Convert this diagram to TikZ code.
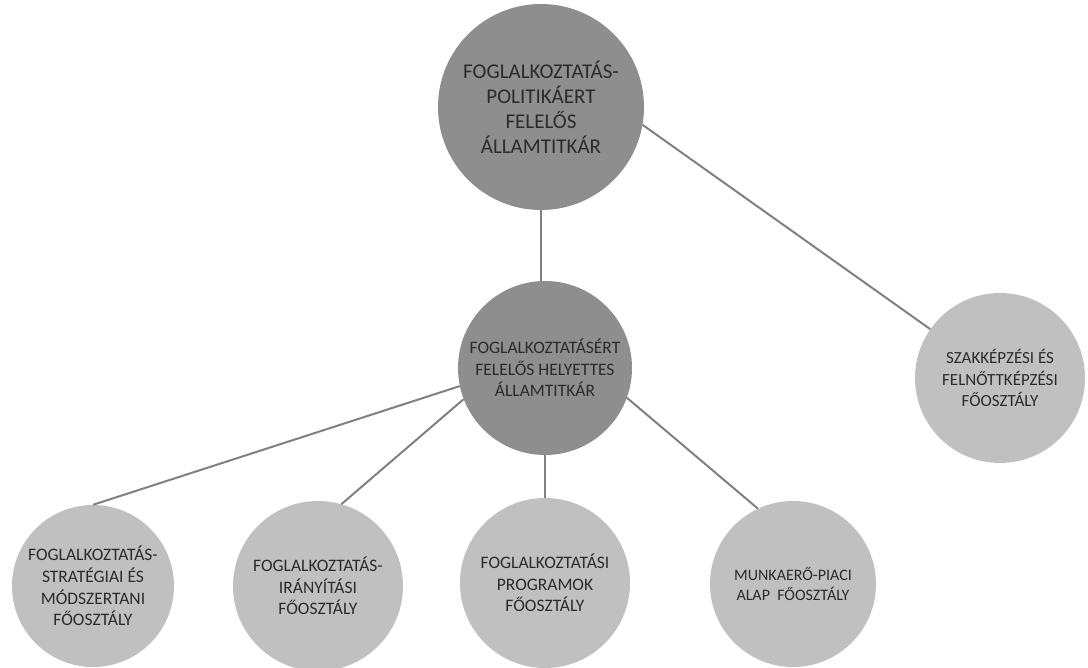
\documentclass[tikz,border=0pt]{standalone}
\usepackage{fontspec}
\setmainfont{Carlito}
\definecolor{darkfill}{HTML}{8E8E8E}
\definecolor{lightfill}{HTML}{C0C0C0}
\definecolor{linecol}{HTML}{808080}
\definecolor{txtcol}{HTML}{2B2B2B}
\tikzset{
  bubble/.style={circle, inner sep=0pt, align=center, text=txtcol},
  darkbubble/.style={bubble, fill=darkfill},
  lightbubble/.style={bubble, fill=lightfill},
  link/.style={draw=linecol, line width=2pt}
}
\newcommand{\fsz}[2]{\fontsize{#1}{#2}\selectfont}
\begin{document}
\begin{tikzpicture}[x=1pt,y=-1pt]
\useasboundingbox (0,0) rectangle (1088,668);
\node[darkbubble, minimum size=206pt, font=\fsz{21}{25}] (top) at (541,107)
  {FOGLALKOZTATÁS-\\POLITIKÁERT\\FELELŐS\\ÁLLAMTITKÁR};
\node[darkbubble, minimum size=174pt, font=\fsz{17.5}{21.5}] (mid) at (545,368)
  {FOGLALKOZTATÁSÉRT\\FELELŐS HELYETTES\\ÁLLAMTITKÁR};
\node[lightbubble, minimum size=170pt, font=\fsz{17}{21.5}] (right) at (1000,378)
  {SZAKKÉPZÉSI ÉS\\FELNŐTTKÉPZÉSI\\FŐOSZTÁLY};
\node[lightbubble, minimum size=162pt, font=\fsz{17.5}{21.7}] (b1) at (93,586)
  {FOGLALKOZTATÁS-\\STRATÉGIAI ÉS\\MÓDSZERTANI\\FŐOSZTÁLY};
\node[lightbubble, minimum size=170pt, font=\fsz{17.5}{21.5}] (b2) at (318,586)
  {FOGLALKOZTATÁS-\\IRÁNYÍTÁSI\\FŐOSZTÁLY};
\node[lightbubble, minimum size=170pt, font=\fsz{17.5}{21.5}] (b3) at (545,583)
  {FOGLALKOZTATÁSI\\PROGRAMOK\\FŐOSZTÁLY};
\node[lightbubble, minimum size=166pt, font=\fsz{16}{20}] (b4) at (793,584)
  {MUNKAERŐ-PIACI\\ALAP\ \ FŐOSZTÁLY};
\draw[link] (top.south) -- (top.south |- mid.north);
\draw[link] (top.-10) -- (right.145);
\draw[link] (mid.192) -- (b1.90);
\draw[link] (mid.201) -- (b2.74);
\draw[link] (mid.south) -- (b3.north);
\draw[link] (mid.-20) -- (b4.115);
\end{tikzpicture}
\end{document}
